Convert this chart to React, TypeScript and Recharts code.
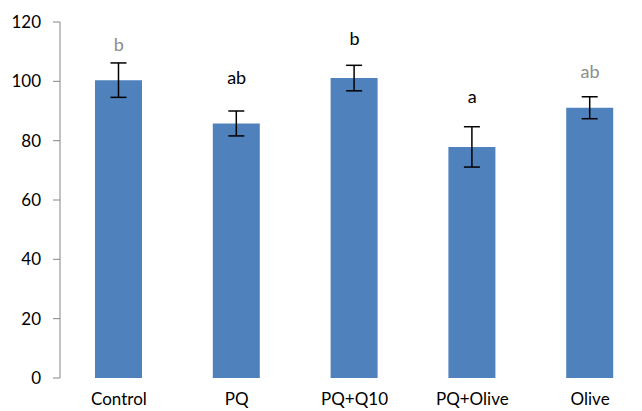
import { ComposedChart, Bar, ErrorBar, Scatter, XAxis, YAxis } from 'recharts';

const categories = ['Control', 'PQ', 'PQ+Q10', 'PQ+Olive', 'Olive'];
const means = [100.4, 85.8, 101.1, 77.9, 91.1];
const errors = [5.8, 4.2, 4.3, 6.8, 3.7];
const letters = ['b', 'ab', 'b', 'a', 'ab'];
const letterAt = [112.7, 101.4, 114.6, 95, 103.5];
const yTicks = [0, 20, 40, 60, 80, 100, 120];
const edgeTicks = [0, 1, 2, 3, 4, 5];

// the letters on Control and Olive look pasted in as blurry images
const fadedLetters = [true, false, false, false, true];

const data = categories.map((name, i) => ({
  name,
  mean: means[i],
  err: errors[i],
  letter: letters[i],
  letterAt: letterAt[i],
  faded: fadedLetters[i],
}));

const font = 'Lato, "Open Sans", sans-serif';
const axisGrey = '#868686';

const renderLetter = (props: any) => {
  const { cx, cy, payload } = props;
  return (
    <text x={cx} y={cy} textAnchor="middle" dominantBaseline="central"
      fontFamily={font} fontSize={18} fill={payload.faded ? '#8c8c8c' : '#000'}>
      {payload.letter}
    </text>
  );
};

const App = () => (
  <div style={{ position: 'absolute', left: 0, top: 0, width: 642, height: 411, overflow: 'hidden', background: '#fff' }}>
    <ComposedChart width={660} height={411} data={data}
      margin={{ top: 22, right: 11, left: 0, bottom: 0 }}>
      <XAxis xAxisId="edge" type="number" domain={[0, 5]} ticks={edgeTicks} height={0}
        tick={() => <g />} tickSize={6} stroke={axisGrey} />
      <XAxis xAxisId="cat" dataKey="name" height={33} axisLine={false} tickLine={false}
        tickMargin={9} tick={{ fontFamily: font, fontSize: 17, fill: '#000' }} />
      <YAxis width={60} domain={[0, 120]} ticks={yTicks} tickSize={7} tickMargin={12}
        stroke={axisGrey} tick={{ fontFamily: font, fontSize: 17, fill: '#000' }} />
      <Bar xAxisId="cat" dataKey="mean" fill="#4F81BD" barSize={47} isAnimationActive={false}>
        <ErrorBar dataKey="err" width={8} stroke="#000" strokeWidth={1.5} direction="y" isAnimationActive={false} />
      </Bar>
      <Scatter xAxisId="cat" dataKey="letterAt" shape={renderLetter} isAnimationActive={false} />
    </ComposedChart>
  </div>
);

export default App;
